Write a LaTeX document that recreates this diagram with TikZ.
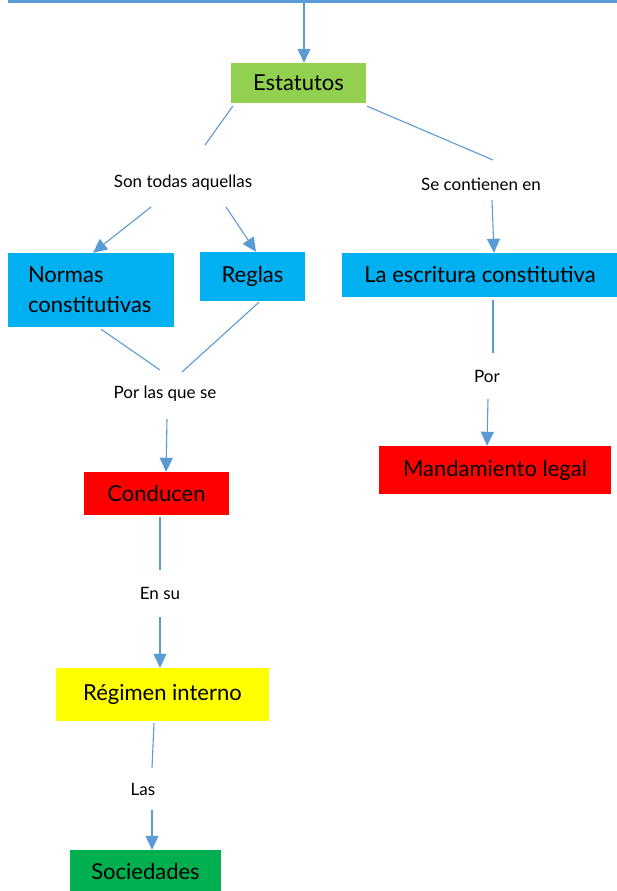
\documentclass[tikz,border=0pt]{standalone}
\usepackage{fontspec}
\setmainfont{Lato}
\usetikzlibrary{arrows.meta,calc}
\definecolor{lineblue}{HTML}{5B9BD5}
\definecolor{estgreen}{HTML}{92D050}
\definecolor{cyanbox}{HTML}{00B0F0}
\definecolor{redbox}{HTML}{FF0000}
\definecolor{yellowbox}{HTML}{FFFF00}
\definecolor{socgreen}{HTML}{00B050}
\tikzset{
  box/.style={rectangle, inner sep=0pt, text=black, font=\fontsize{22}{30}\selectfont},
  lbl/.style={inner sep=0pt, text=black, font=\fontsize{17}{20}\selectfont},
  conn/.style={draw=lineblue, line width=1.1pt},
  arr/.style={conn, -{Triangle[length=14pt,width=13pt]}},
}
\begin{document}
\begin{tikzpicture}[x=1pt,y=-1pt]
\useasboundingbox (0,0) rectangle (617,891);
% top line
\draw[lineblue, line width=3.5pt] (8,1.5) -- (617,1.5);
\coordinate (top) at (304,3);
% boxes
\node[box, fill=estgreen, minimum width=135pt, minimum height=40pt] (est) at (298.5,83) {Estatutos\hspace{5pt}};
\node[box, fill=cyanbox, minimum width=166pt, minimum height=74pt, text width=126pt, inner xsep=20pt, align=left] (nor) at (91,290) {Normas\\constitutivas};
\node[box, fill=cyanbox, minimum width=105pt, minimum height=49pt] (reg) at (252.5,276.5) {Reglas};
\node[box, fill=cyanbox, minimum width=276pt, minimum height=44pt] (esc) at (480,275) {La escritura constitutiva};
\node[box, fill=redbox, minimum width=145pt, minimum height=43pt] (con) at (156.5,493.5) {Conducen\hspace{4pt}};
\node[box, fill=yellowbox, minimum width=213pt, minimum height=53pt] (rin) at (162.5,694.5) {Régimen interno\hspace{10pt}};
\node[box, fill=socgreen, minimum width=151pt, minimum height=43pt] (soc) at (145.5,871.5) {Sociedades\hspace{5pt}};
\node[box, fill=redbox, minimum width=232pt, minimum height=48pt] (man) at (495,470) {Mandamiento legal\hspace{12pt}};
% labels
\node[lbl] (son) at (183,183) {Son todas aquellas};
\node[lbl] (sec) at (481,184) {Se contienen en};
\node[lbl] (pls) at (165,394) {Por las que se};
\node[lbl] (ens) at (160,593) {En su};
\node[lbl] (las) at (143,789) {Las};
\node[lbl] (por) at (487,376) {Por};
% connectors
\draw[arr] (top) -- (top |- est.north);
\draw[conn] ($(est.south west)+(2,3)$) -- ($(son)+(22,-38)$);
\draw[conn] ($(est.south east)+(1,3)$) -- ($(sec)+(12,-24)$);
\draw[arr] ($(son)+(-32,24)$) -- ($(nor.north)+(2,0)$);
\draw[arr] ($(son)+(43,24)$) -- ($(reg.north)+(3.5,0)$);
\draw[arr] ($(sec)+(11,16)$) -- ($(esc.north)+(14,0)$);
\draw[conn] ($(nor.south)+(10,2)$) -- ($(pls)+(-5,-24)$);
\draw[conn] ($(reg.south)+(6.5,1)$) -- ($(pls)+(17,-22)$);
\draw[arr] ($(pls)+(2,25)$) -- ($(con.north)+(9.5,0)$);
\draw[conn] ($(con.south)+(3.5,2)$) -- ($(ens)+(0,-23)$);
\draw[arr] ($(ens)+(0,24)$) -- ($(rin.north)+(-2.5,0)$);
\draw[conn] ($(rin.south)+(-8.5,2)$) -- ($(las)+(9,-21)$);
\draw[arr] ($(las)+(9,21)$) -- ($(soc.north)+(6.5,0)$);
\draw[conn] ($(esc.south)+(13,3)$) -- ($(por)+(6,-23)$);
\draw[arr] ($(por)+(1,23)$) -- ($(man.north)+(-8,0)$);
\end{tikzpicture}
\end{document}
